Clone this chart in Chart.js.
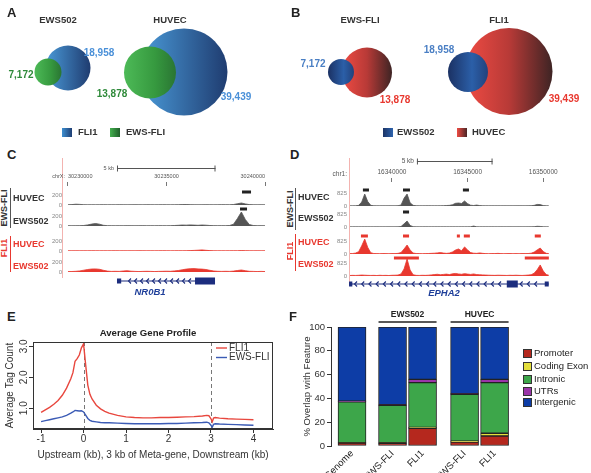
<!DOCTYPE html>
<html>
<head>
<meta charset="utf-8">
<script src="https://cdn.jsdelivr.net/npm/chart.js@4.4.0/dist/chart.umd.min.js"></script>
<style>
html, body { margin: 0; padding: 0; background: #fff; overflow: hidden; }
#fig { position: relative; width: 591px; height: 473px; overflow: hidden; font-family: "Liberation Sans", Arial, Helvetica, sans-serif; color: #333; }
#fig canvas { position: absolute; }
.t { position: absolute; white-space: nowrap; line-height: 1; transform: translate(0, -50%); }
.tc { position: absolute; white-space: nowrap; line-height: 1; transform: translate(-50%, -50%); }
.tv { position: absolute; white-space: nowrap; line-height: 1; transform: translate(-50%, -50%) rotate(-90deg); }
.pl { font-weight: bold; font-size: 13px; color: #222; }
.b { font-weight: bold; }
.sq { position: absolute; width: 10px; height: 9px; }
.vl { position: absolute; width: 1px; }
.lg { position: absolute; width: 7px; height: 7px; border: 1px solid #333; }
</style>
</head>
<body>
<div id="fig">
  <canvas id="cVenn" width="591" height="145" style="left:0;top:0"></canvas>
  <canvas id="cC" width="240" height="150" style="left:40px;top:150px"></canvas>
  <canvas id="cD" width="245" height="150" style="left:315px;top:150px"></canvas>
  <canvas id="cE" width="295" height="148" style="left:0;top:325px"></canvas>
  <canvas id="cF" width="301" height="190" style="left:290px;top:300px"></canvas>

  <!-- panel letters -->
  <div class="t pl" style="left:7px;top:12px">A</div>
  <div class="t pl" style="left:291px;top:12px">B</div>
  <div class="t pl" style="left:7px;top:154px">C</div>
  <div class="t pl" style="left:290px;top:154px">D</div>
  <div class="t pl" style="left:7px;top:316px">E</div>
  <div class="t pl" style="left:289px;top:316px">F</div>

  <!-- A / B titles and legends -->
  <div class="tc b" style="left:58px;top:20px;font-size:9.5px">EWS502</div>
  <div class="tc b" style="left:170px;top:20px;font-size:9.5px">HUVEC</div>
  <div class="tc b" style="left:360px;top:20px;font-size:9.5px">EWS-FLI</div>
  <div class="tc b" style="left:499px;top:20px;font-size:9.5px">FLI1</div>

  <div class="sq" style="left:62px;top:128px;background:linear-gradient(90deg,#3d8fd0,#1f3e74)"></div>
  <div class="t b" style="left:78px;top:132px;font-size:9.5px">FLI1</div>
  <div class="sq" style="left:110px;top:128px;background:linear-gradient(90deg,#44b04f,#1f5f2a)"></div>
  <div class="t b" style="left:126px;top:132px;font-size:9.5px">EWS-FLI</div>

  <div class="sq" style="left:383px;top:128px;background:linear-gradient(90deg,#1c3466,#2d63ad)"></div>
  <div class="t b" style="left:397px;top:132px;font-size:9.5px">EWS502</div>
  <div class="sq" style="left:457px;top:128px;background:linear-gradient(90deg,#ee4b43,#4a2626)"></div>
  <div class="t b" style="left:472px;top:132px;font-size:9.5px">HUVEC</div>

  <!-- C track labels -->
  <div class="tv b" style="left:4px;top:208px;font-size:9px;color:#333">EWS-FLI</div>
  <div class="vl" style="left:10px;top:188px;height:40px;background:#555"></div>
  <div class="tv b" style="left:4px;top:248px;font-size:9px;color:#e8382f">FLI1</div>
  <div class="vl" style="left:10px;top:236px;height:36px;background:#e8382f"></div>
  <div class="t b" style="left:13px;top:198px;font-size:9px">HUVEC</div>
  <div class="t b" style="left:13px;top:221px;font-size:9px">EWS502</div>
  <div class="t b" style="left:13px;top:244px;font-size:9px;color:#e8382f">HUVEC</div>
  <div class="t b" style="left:13px;top:266px;font-size:9px;color:#e8382f">EWS502</div>
  <div class="tc b" style="left:150px;top:292px;font-size:9.5px;font-style:italic;color:#1f3f9a">NR0B1</div>

  <!-- D track labels -->
  <div class="tv b" style="left:290px;top:209px;font-size:9px;color:#333">EWS-FLI</div>
  <div class="vl" style="left:295px;top:188px;height:42px;background:#555"></div>
  <div class="tv b" style="left:290px;top:251px;font-size:9px;color:#e8382f">FLI1</div>
  <div class="vl" style="left:295px;top:234px;height:37px;background:#e8382f"></div>
  <div class="t b" style="left:298px;top:197px;font-size:9px">HUVEC</div>
  <div class="t b" style="left:298px;top:218px;font-size:9px">EWS502</div>
  <div class="t b" style="left:298px;top:242px;font-size:9px;color:#e8382f">HUVEC</div>
  <div class="t b" style="left:298px;top:264px;font-size:9px;color:#e8382f">EWS502</div>
  <div class="tc b" style="left:444px;top:293px;font-size:9.5px;font-style:italic;color:#1f3f9a">EPHA2</div>

  <!-- E title -->
  <div class="tc b" style="left:148px;top:333px;font-size:9.6px;color:#222">Average Gene Profile</div>

  <!-- F legend -->
  <div id="legF"></div>
</div>

<script>
// ---------- A / B : peak counts ----------
const cellLines = ["EWS502", "HUVEC"];
const fli1Peaks = [18958, 39439];
const ewsFliPeaks = [7172, 13878];

// ---------- C : NR0B1 locus (chrX), 200 bp bins from 30230000 ----------
const nr0b1BinStart = 30230000;
const nr0b1BinSize = 200;
const nr0b1HuvecEwsFli = [5,8,16,12,6,4,5,4,5,6, 4,5,4,6,5,4,5,6,5,4, 6,5,4,5,6,5,4,5,6,8, 10,7,5,4,5,6,5,4,5,7, 6,5,10,25,40,22,8,5,4,5,4];
const nr0b1Ews502EwsFli = [6,5,6,7,10,22,38,50,36,14, 7,6,5,6,5,7,6,5,6,7, 5,6,5,7,6,5,7,10,14,20, 17,22,18,14,20,16,10,7,6,7, 6,10,35,150,280,130,30,10,6,7,5];
const nr0b1HuvecFli1 = [5,4,5,4,5,4,6,5,4,5, 4,5,6,4,5,4,5,4,6,5, 4,5,4,5,6,5,4,5,6,5, 6,8,12,16,22,14,8,5,4,5, 4,5,6,5,9,7,5,4,5,4,5];
const nr0b1Ews502Fli1 = [8,10,14,22,36,50,60,62,54,34, 18,12,14,12,20,26,16,12,9,12, 14,12,9,12,14,16,14,22,30,45, 58,66,68,62,58,50,34,20,14,12, 14,12,18,30,40,26,14,12,9,12,9];
const nr0b1PeaksHuvecEwsFli = [[30238832, 30239289]];
const nr0b1PeaksEws502EwsFli = [[30238731, 30239086]];
const nr0b1Gene = [30232487, 30237462];
const nr0b1Exons = [[30232487, 30232700], [30236447, 30237462]];
const nr0b1Ticks = [30230000, 30235000, 30240000];

// ---------- D : EPHA2 locus (chr1), 200 bp bins from 16337200 ----------
const epha2BinStart = 16337200;
const epha2BinSize = 200;
const epha2HuvecEwsFli = [10,12,15,40,250,760,280,40,15,12,10,12,10,14,12,10,20,60,500,760,200,40,15,12,10,12,15,12,10,12,15,20,30,40,80,170,190,160,320,150,50,30,60,25,15,12,10,12,10,12,10,12,10,12,10,12,14,12,10,15,20,40,100,90,25,12,10];
const epha2Ews502EwsFli = [8,8,10,8,8,10,8,8,8,10,8,8,8,10,8,8,12,30,200,380,100,20,10,8,8,10,8,8,8,10,8,10,8,8,10,8,8,10,8,10,12,60,12,8,10,8,8,10,8,8,10,8,8,10,8,8,10,8,8,10,12,20,45,35,12,8,8];
const epha2HuvecFli1 = [25,30,60,150,520,950,420,80,30,25,20,30,25,20,30,25,40,90,320,570,260,60,30,25,20,25,30,40,50,70,90,60,40,60,130,250,320,200,450,260,90,50,40,70,40,25,20,30,25,40,25,20,25,30,20,25,20,30,25,30,50,120,260,380,160,40,25];
const epha2Ews502Fli1 = [30,40,35,45,60,50,40,35,40,30,45,35,40,30,45,50,60,130,450,1080,380,80,40,35,45,40,50,70,90,110,80,100,120,90,140,160,130,110,150,120,100,130,90,80,70,60,50,45,40,50,45,40,35,45,40,50,40,35,45,60,80,180,400,700,320,90,40];
const epha2PeaksHuvecEwsFli = [[16338080, 16338480], [16340730, 16341190], [16344690, 16345090]];
const epha2PeaksEws502EwsFli = [[16340730, 16341130]];
const epha2PeaksHuvecFli1 = [[16337950, 16338410], [16340730, 16341130], [16344290, 16344490], [16344750, 16345150], [16349440, 16349840]];
const epha2PeaksEws502Fli1 = [[16340130, 16341780], [16348780, 16350370]];
const epha2Gene = [16337162, 16350363];
const epha2Exons = [[16337162, 16337380], [16347591, 16348317], [16350099, 16350363]];
const epha2Ticks = [16340000, 16345000, 16350000];

// ---------- E : average gene profile ----------
const profileX = [-1,-0.9,-0.8,-0.7,-0.6,-0.5,-0.4,-0.3,-0.25,-0.2,-0.15,-0.1,-0.05,0,0.05,0.1,0.15,0.2,0.3,0.4,0.5,0.6,0.8,1.0,1.2,1.4,1.6,1.8,2.0,2.2,2.4,2.6,2.8,2.9,2.95,3.0,3.03,3.06,3.1,3.2,3.4,3.6,3.8,4.0];
const profileFli1 = [0.87,0.95,1.03,1.13,1.25,1.42,1.65,1.95,2.15,2.52,2.6,2.72,2.95,3.08,2.4,1.75,1.45,1.3,1.1,0.98,0.9,0.84,0.77,0.72,0.7,0.69,0.69,0.7,0.7,0.71,0.72,0.73,0.75,0.77,0.76,0.66,0.56,0.68,0.7,0.68,0.66,0.65,0.64,0.63];
const profileEwsFli = [0.57,0.6,0.63,0.66,0.69,0.72,0.77,0.84,0.88,0.93,0.92,0.91,0.92,0.88,0.78,0.67,0.61,0.58,0.56,0.54,0.53,0.53,0.52,0.51,0.5,0.5,0.5,0.5,0.51,0.51,0.52,0.53,0.54,0.55,0.53,0.45,0.39,0.48,0.5,0.49,0.48,0.47,0.46,0.45];
const profileTicksX = [-1, 0, 1, 2, 3, 4];
const profileTicksY = [1, 2, 3];

// ---------- F : % overlap with genomic feature ----------
const featureBars = ["Genome", "EWS-FLI", "FLI1", "EWS-FLI", "FLI1"];
const featureGroups = ["", "EWS502", "EWS502", "HUVEC", "HUVEC"];
const features = ["Promoter", "Coding Exon", "Intronic", "UTRs", "Intergenic"];
const promoterPct = [2.4, 2.2, 14.8, 3.3, 8.4];
const codingExonPct = [0.3, 0.5, 0.8, 0.8, 2.3];
const intronicPct = [34.5, 31.5, 37.6, 39.3, 42.5];
const utrPct = [0.5, 0.5, 2.8, 0.6, 2.8];
const intergenicPct = [62.3, 65.3, 44.0, 56.0, 44.0];

Chart.defaults.font.family = '"Liberation Sans", Arial, Helvetica, sans-serif';
Chart.defaults.animation = false;
Chart.defaults.plugins.legend.display = false;
Chart.defaults.plugins.tooltip.enabled = false;

const RED = "#e8382f";

// ================= A / B  (Venn circles) =================
// circle centres / radii in the 591x145 strip (layout only)
const vennLayout = {
    ewsFliA: [{ x: 48, y: 72, r: 13.5 }, { x: 150, y: 72.5, r: 26 }],
    fli1A: [{ x: 68, y: 68, r: 22.5 }, { x: 184, y: 72, r: 43.5 }],
    ews502B: [{ x: 341, y: 72, r: 13 }, { x: 468, y: 72, r: 20 }],
    huvecB: [{ x: 367, y: 72.5, r: 25 }, { x: 509, y: 71.5, r: 43.5 }]
};

function bubbleGradient(stops) {
    return function (c) {
        const raw = c.raw;
        const xs = c.chart.scales && c.chart.scales.x;
        if (!raw || !xs) return stops[0][1];
        const cx = xs.getPixelForValue(raw.x);
        if (!isFinite(cx) || !isFinite(raw.r)) return stops[0][1];
        const g = c.chart.ctx.createLinearGradient(cx - raw.r, 0, cx + raw.r, 0);
        stops.forEach(s => g.addColorStop(s[0], s[1]));
        return g;
    };
}

const blueA = [[0, "#4a9ad8"], [1, "#1f3c70"]];
const greenA = [[0, "#4dba57"], [0.6, "#36993f"], [1, "#2a7533"]];
const blueB = [[0, "#1b3163"], [0.6, "#2b5fa8"], [1, "#22427c"]];
const redB = [[0, "#ef4b43"], [0.5, "#b83a37"], [1, "#3e2424"]];

const vennLabels = [
    { v: fli1Peaks[0], x: 99, y: 53, c: "#4a90d8" },
    { v: ewsFliPeaks[0], x: 21, y: 75, c: "#2f8a3a" },
    { v: ewsFliPeaks[1], x: 112, y: 94, c: "#2f8a3a" },
    { v: fli1Peaks[1], x: 236, y: 97, c: "#4a90d8" },
    { v: ewsFliPeaks[0], x: 313, y: 64, c: "#4a7fc4" },
    { v: ewsFliPeaks[1], x: 395, y: 100, c: RED },
    { v: fli1Peaks[0], x: 439, y: 50, c: "#4a7fc4" },
    { v: fli1Peaks[1], x: 564, y: 99, c: RED }
];

new Chart(document.getElementById("cVenn"), {
    type: "bubble",
    data: {
        datasets: [
            { label: "EWS-FLI", data: vennLayout.ewsFliA, backgroundColor: bubbleGradient(greenA), borderWidth: 0, clip: false },
            { label: cellLines[0], data: vennLayout.ews502B, backgroundColor: bubbleGradient(blueB), borderWidth: 0, clip: false },
            { label: "FLI1", data: vennLayout.fli1A, backgroundColor: bubbleGradient(blueA), borderWidth: 0, clip: false },
            { label: cellLines[1], data: vennLayout.huvecB, backgroundColor: bubbleGradient(redB), borderWidth: 0, clip: false }
        ]
    },
    options: {
        responsive: false,
        layout: { padding: 0, autoPadding: false },
        scales: {
            x: { type: "linear", min: 0, max: 591, display: false },
            y: { type: "linear", min: 0, max: 145, reverse: true, display: false }
        }
    },
    plugins: [{
        id: "vennCounts",
        afterDatasetsDraw(chart) {
            const ctx = chart.ctx, xs = chart.scales.x, ys = chart.scales.y;
            ctx.save();
            ctx.font = 'bold 10px "Liberation Sans", Arial, sans-serif';
            ctx.textAlign = "center";
            ctx.textBaseline = "middle";
            vennLabels.forEach(l => {
                ctx.fillStyle = l.c;
                ctx.fillText(l.v.toLocaleString("en-US"), xs.getPixelForValue(l.x), ys.getPixelForValue(l.y));
            });
            ctx.restore();
        }
    }]
});

// ================= C / D  (genome browser tracks) =================
function trackChart(id, cfg) {
    const scales = {
        x: {
            type: "linear", position: "top", min: cfg.xMin, max: cfg.xMax,
            afterBuildTicks: s => { s.ticks = cfg.ticks.map(v => ({ value: v })); },
            afterFit: s => { s.height = cfg.axisHeight; },
            ticks: { autoSkip: false, maxRotation: 0, align: cfg.tickAlign, padding: 2, color: "#555", font: { size: cfg.tickFont }, callback: v => String(v) },
            grid: { display: true, drawOnChartArea: false, drawTicks: true, tickLength: 4, color: "#777" },
            border: { display: false }
        }
    };
    // stacked axes are laid out bottom-up, so register the last track first
    cfg.tracks.slice().reverse().forEach(t => {
        const i = cfg.tracks.indexOf(t);
        scales["t" + i] = {
            type: "linear", position: "left", stack: "tracks", stackWeight: t.h,
            min: 0, max: t.h * cfg.unitsPerPx,
            afterBuildTicks: s => { s.ticks = [{ value: 0 }, { value: cfg.tickValue }]; },
            afterFit: s => { s.width = cfg.axisWidth; },
            ticks: { autoSkip: false, padding: cfg.labelPad, color: "#888", font: { size: 6 } },
            grid: { display: false, drawTicks: false },
            border: { display: false }
        };
    });

    new Chart(document.getElementById(id), {
        type: "line",
        data: {
            datasets: cfg.tracks.map((t, i) => ({
                label: t.name,
                data: t.values.map((v, j) => ({ x: cfg.binStart + j * cfg.binSize, y: v })),
                yAxisID: "t" + i,
                borderColor: t.color,
                backgroundColor: t.fill,
                borderWidth: 0.8,
                pointRadius: 0,
                fill: "origin",
                tension: 0
            }))
        },
        options: {
            responsive: false,
            layout: { padding: { top: 0, right: cfg.padRight, bottom: cfg.padBottom, left: 0 } },
            scales: scales
        },
        plugins: [{
            id: "browserDecor",
            afterDraw(chart) {
                const ctx = chart.ctx, xs = chart.scales.x, area = chart.chartArea;
                ctx.save();
                // pink left rule
                ctx.strokeStyle = "#f3b3b0";
                ctx.lineWidth = 1;
                ctx.beginPath();
                ctx.moveTo(area.left - cfg.ruleGap + 0.5, 8);
                ctx.lineTo(area.left - cfg.ruleGap + 0.5, area.bottom + 6);
                ctx.stroke();

                // peak call bars
                cfg.tracks.forEach((t, i) => {
                    const ys = chart.scales["t" + i];
                    ctx.fillStyle = t.barColor;
                    t.peaks.forEach(p => {
                        const x1 = xs.getPixelForValue(p[0]), x2 = xs.getPixelForValue(p[1]);
                        ctx.fillRect(x1, ys.top + t.barY - 1.5, x2 - x1, 3);
                    });
                });

                // chromosome label
                ctx.fillStyle = "#555";
                ctx.font = cfg.tickFont + 'px "Liberation Sans", Arial, sans-serif';
                ctx.textAlign = "right";
                ctx.textBaseline = "middle";
                ctx.fillText(cfg.chrom + ":", area.left - 2, cfg.chromY);

                // 5 kb scale bar
                const b1 = xs.getPixelForValue(cfg.scaleStart), b2 = xs.getPixelForValue(cfg.scaleStart + 5000);
                ctx.fillText("5 kb", b1 - 3, cfg.scaleY);
                ctx.strokeStyle = "#555";
                ctx.beginPath();
                ctx.moveTo(b1, cfg.scaleY + 0.5); ctx.lineTo(b2, cfg.scaleY + 0.5);
                ctx.moveTo(b1 + 0.5, cfg.scaleY - 2.5); ctx.lineTo(b1 + 0.5, cfg.scaleY + 3.5);
                ctx.moveTo(b2 - 0.5, cfg.scaleY - 2.5); ctx.lineTo(b2 - 0.5, cfg.scaleY + 3.5);
                ctx.stroke();

                // gene model
                const gy = area.bottom + cfg.geneGap;
                const g1 = xs.getPixelForValue(cfg.gene[0]), g2 = xs.getPixelForValue(cfg.gene[1]);
                const ex = cfg.exons.map(e => [xs.getPixelForValue(e[0]), xs.getPixelForValue(e[1])]);
                ctx.strokeStyle = "#1c2d7e";
                ctx.fillStyle = "#1c2d7e";
                ctx.lineWidth = 1.2;
                ctx.beginPath();
                ctx.moveTo(g1, gy); ctx.lineTo(g2, gy);
                ctx.stroke();
                ctx.lineWidth = 1.1;
                for (let x = g1 + 6; x < g2 - 3; x += cfg.chevron) {
                    if (ex.some(e => x > e[0] - 3 && x < e[1] + 2)) continue;
                    ctx.beginPath();
                    ctx.moveTo(x + 2, gy - 2.5); ctx.lineTo(x - 0.5, gy); ctx.lineTo(x + 2, gy + 2.5);
                    ctx.stroke();
                }
                ex.forEach(e => {
                    const h = e[1] - e[0] > 8 ? 7 : 5;
                    ctx.fillRect(e[0], gy - h / 2, Math.max(e[1] - e[0], 2), h);
                });
                ctx.restore();
            }
        }]
    });
}

trackChart("cC", {
    xMin: 30229950, xMax: 30240100, ticks: nr0b1Ticks, tickAlign: "inner", tickFont: 5.5,
    binStart: nr0b1BinStart, binSize: nr0b1BinSize,
    axisHeight: 36, axisWidth: 27, padRight: 13, padBottom: 28, labelPad: 5, ruleGap: 5,
    unitsPerPx: 20, tickValue: 200,
    chrom: "chrX", chromY: 26, scaleStart: 30232487, scaleY: 18,
    gene: nr0b1Gene, exons: nr0b1Exons, geneGap: 9, chevron: 6,
    tracks: [
        { name: "HUVEC EWS-FLI", values: nr0b1HuvecEwsFli, peaks: nr0b1PeaksHuvecEwsFli, h: 19, barY: 6, color: "#555", fill: "#555", barColor: "#222" },
        { name: "EWS502 EWS-FLI", values: nr0b1Ews502EwsFli, peaks: nr0b1PeaksEws502EwsFli, h: 21, barY: 4, color: "#555", fill: "#555", barColor: "#222" },
        { name: "HUVEC FLI1", values: nr0b1HuvecFli1, peaks: [], h: 25, barY: 5, color: RED, fill: RED, barColor: RED },
        { name: "EWS502 FLI1", values: nr0b1Ews502Fli1, peaks: [], h: 21, barY: 5, color: RED, fill: RED, barColor: RED }
    ]
});

trackChart("cD", {
    xMin: 16337160, xMax: 16350365, ticks: epha2Ticks, tickAlign: "center", tickFont: 6.5,
    binStart: epha2BinStart, binSize: epha2BinSize,
    axisHeight: 32, axisWidth: 34, padRight: 11, padBottom: 24, labelPad: 2, ruleGap: 0,
    unitsPerPx: 63.5, tickValue: 825,
    chrom: "chr1", chromY: 24, scaleStart: 16341650, scaleY: 11,
    gene: epha2Gene, exons: epha2Exons, geneGap: 8, chevron: 7.2,
    tracks: [
        { name: "HUVEC EWS-FLI", values: epha2HuvecEwsFli, peaks: epha2PeaksHuvecEwsFli, h: 24, barY: 8, color: "#555", fill: "#555", barColor: "#222" },
        { name: "EWS502 EWS-FLI", values: epha2Ews502EwsFli, peaks: epha2PeaksEws502EwsFli, h: 21, barY: 6, color: "#555", fill: "#555", barColor: "#222" },
        { name: "HUVEC FLI1", values: epha2HuvecFli1, peaks: epha2PeaksHuvecFli1, h: 27, barY: 9, color: RED, fill: RED, barColor: RED },
        { name: "EWS502 FLI1", values: epha2Ews502Fli1, peaks: epha2PeaksEws502Fli1, h: 22, barY: 4, color: RED, fill: RED, barColor: RED }
    ]
});

// ================= E  (average gene profile) =================
new Chart(document.getElementById("cE"), {
    type: "line",
    data: {
        datasets: [
            { label: "FLI1", data: profileX.map((x, i) => ({ x: x, y: profileFli1[i] })), borderColor: "#e8473e", borderWidth: 1.4, pointRadius: 0, tension: 0 },
            { label: "EWS-FLI", data: profileX.map((x, i) => ({ x: x, y: profileEwsFli[i] })), borderColor: "#3b5bb5", borderWidth: 1.4, pointRadius: 0, tension: 0 }
        ]
    },
    options: {
        responsive: false,
        layout: { padding: { top: 17, right: 22, bottom: 0, left: 0 } },
        scales: {
            x: {
                type: "linear", min: -1.19, max: 4.46,
                afterBuildTicks: s => { s.ticks = profileTicksX.map(v => ({ value: v })); },
                afterFit: s => { s.height = 44; },
                ticks: { autoSkip: false, maxRotation: 0, padding: 0, color: "#333", font: { size: 10 } },
                grid: { display: true, drawOnChartArea: false, drawTicks: true, tickLength: 4, color: "#333" },
                border: { display: true, color: "#333" },
                title: { display: true, text: "Upstream (kb), 3 kb of Meta-gene, Downstream (kb)", color: "#333", font: { size: 10 }, padding: { top: 0, bottom: 12 } }
            },
            y: {
                type: "linear", min: 0.33, max: 3.14,
                afterBuildTicks: s => { s.ticks = profileTicksY.map(v => ({ value: v })); },
                afterFit: s => { s.width = 33; },
                ticks: { display: false },
                grid: { display: true, drawOnChartArea: false, drawTicks: true, tickLength: 4, color: "#333" },
                border: { display: true, color: "#333" },
                title: { display: true, text: "Average Tag Count", color: "#333", font: { size: 10 }, padding: { top: 4, bottom: 0 } }
            }
        }
    },
    plugins: [{
        id: "profileDecor",
        beforeDatasetsDraw(chart) {
            const ctx = chart.ctx, xs = chart.scales.x, a = chart.chartArea;
            ctx.save();
            ctx.strokeStyle = "#777";
            ctx.lineWidth = 1;
            ctx.setLineDash([4, 3]);
            [0, 3].forEach(v => {
                const x = Math.round(xs.getPixelForValue(v)) + 0.5;
                ctx.beginPath(); ctx.moveTo(x, a.top); ctx.lineTo(x, a.bottom); ctx.stroke();
            });
            ctx.restore();
        },
        afterDraw(chart) {
            const ctx = chart.ctx, ys = chart.scales.y, a = chart.chartArea;
            ctx.save();
            ctx.strokeStyle = "#333";
            ctx.lineWidth = 1;
            ctx.strokeRect(a.left + 0.5, a.top + 0.5, a.right - a.left - 1, a.bottom - a.top - 1);
            ctx.fillStyle = "#333";
            ctx.font = '10px "Liberation Sans", Arial, sans-serif';
            ctx.textAlign = "center";
            ctx.textBaseline = "middle";
            profileTicksY.forEach(v => {
                ctx.save();
                ctx.translate(a.left - 9, ys.getPixelForValue(v));
                ctx.rotate(-Math.PI / 2);
                ctx.fillText(v.toFixed(1), 0, 0);
                ctx.restore();
            });
            // legend
            ctx.textAlign = "left";
            chart.data.datasets.forEach((ds, i) => {
                const y = a.top + 6 + i * 9.5;
                ctx.strokeStyle = ds.borderColor;
                ctx.lineWidth = 1.4;
                ctx.beginPath(); ctx.moveTo(a.right - 57, y); ctx.lineTo(a.right - 46, y); ctx.stroke();
                ctx.fillText(ds.label, a.right - 44, y);
            });
            ctx.restore();
        }
    }]
});

// ================= F  (genomic feature overlap) =================
const barSlots = [0, 1.35, 2.35, 3.75, 4.75];   // bar centres on x axis (layout)
const featureSeries = [promoterPct, codingExonPct, intronicPct, utrPct, intergenicPct];
const featureColors = ["#b5281e", "#e4df3c", "#3da64a", "#9a35a8", "#0d3da6"];

new Chart(document.getElementById("cF"), {
    type: "bar",
    data: {
        datasets: features.map((f, k) => ({
            label: f,
            data: featureSeries[k].map((v, i) => ({ x: barSlots[i], y: v })),
            backgroundColor: featureColors[k],
            borderColor: "#222",
            borderWidth: 1,
            borderSkipped: false,
            barThickness: 28
        }))
    },
    options: {
        responsive: false,
        layout: { padding: { top: 27, right: 76, bottom: 0, left: 0 } },
        scales: {
            x: {
                type: "linear", min: -0.7, max: 5.43, stacked: true, offset: false,
                afterBuildTicks: s => { s.ticks = barSlots.map(v => ({ value: v })); },
                afterFit: s => { s.height = 44; },
                ticks: { autoSkip: false, minRotation: 45, maxRotation: 45, padding: 2, color: "#222", font: { size: 9.5 }, callback: (v, i) => featureBars[i] },
                grid: { display: false, drawTicks: false },
                border: { display: false }
            },
            y: {
                min: 0, max: 100, stacked: true,
                ticks: { stepSize: 20, padding: 2, color: "#333", font: { size: 9.5 } },
                afterFit: s => { s.width = 41; },
                grid: { display: true, drawOnChartArea: false, drawTicks: true, tickLength: 4, color: "#333" },
                border: { display: true, color: "#333" },
                title: { display: true, text: "% Overlap with Feature", color: "#333", font: { size: 9.6 }, padding: { top: 12, bottom: 0 } }
            }
        }
    },
    plugins: [{
        id: "groupHeaders",
        afterDraw(chart) {
            const ctx = chart.ctx, xs = chart.scales.x, a = chart.chartArea;
            ctx.save();
            ctx.font = 'bold 8.5px "Liberation Sans", Arial, sans-serif';
            ctx.textAlign = "center";
            ctx.textBaseline = "middle";
            ctx.fillStyle = "#222";
            ctx.strokeStyle = "#222";
            ctx.lineWidth = 1.5;
            const groups = featureGroups.filter((g, i) => g && featureGroups.indexOf(g) === i);
            groups.forEach(g => {
                const idx = featureGroups.map((n, i) => n === g ? i : -1).filter(i => i >= 0);
                const x1 = xs.getPixelForValue(barSlots[idx[0]]) - 14;
                const x2 = xs.getPixelForValue(barSlots[idx[idx.length - 1]]) + 14;
                ctx.beginPath(); ctx.moveTo(x1, a.top - 5); ctx.lineTo(x2, a.top - 5); ctx.stroke();
                ctx.fillText(g, (x1 + x2) / 2, a.top - 12);
            });
            ctx.restore();
        }
    }]
});

// F legend (HTML)
const legF = document.getElementById("legF");
const legRows = [353, 366, 379, 391, 402];
features.forEach((f, k) => {
    const sq = document.createElement("div");
    sq.className = "lg";
    sq.style.left = "523px";
    sq.style.top = (legRows[k] - 4) + "px";
    sq.style.background = featureColors[k];
    legF.appendChild(sq);
    const tx = document.createElement("div");
    tx.className = "t";
    tx.style.left = "534px";
    tx.style.top = legRows[k] + "px";
    tx.style.fontSize = "9.5px";
    tx.style.color = "#222";
    tx.textContent = f;
    legF.appendChild(tx);
});
</script>
</body>
</html>
